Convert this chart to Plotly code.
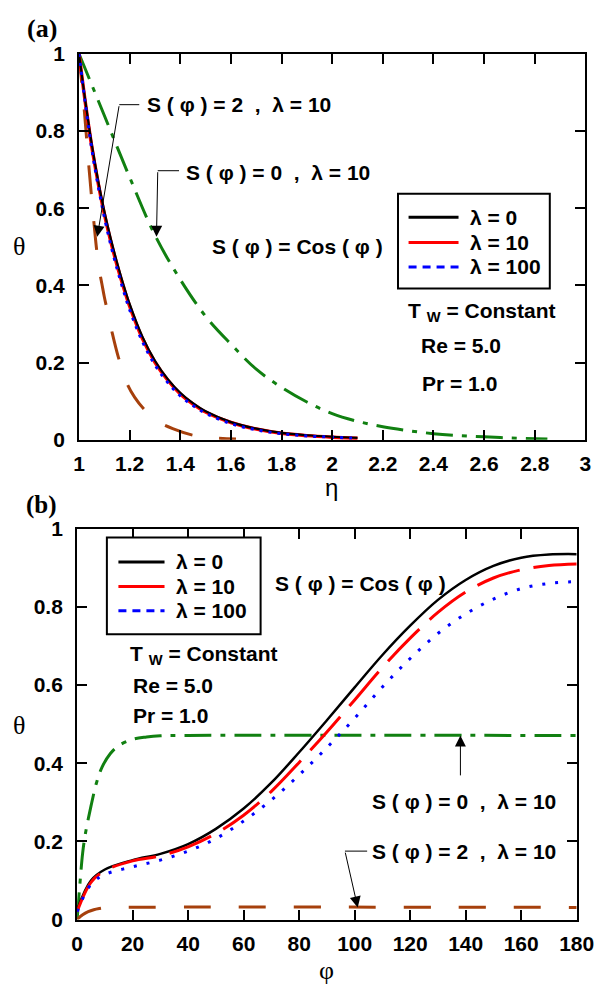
import plotly.graph_objects as go

# ---------------- data: panel (a) ----------------
eta_base = [1.0, 1.025, 1.05, 1.075, 1.1, 1.125, 1.15, 1.175, 1.2, 1.25, 1.3, 1.35, 1.4, 1.45, 1.5, 1.6, 1.7, 1.8, 1.9, 2.0, 2.1]
theta_a_l0 = [1.0, 0.877, 0.767, 0.673, 0.592, 0.522, 0.46, 0.403, 0.352, 0.268, 0.205, 0.158, 0.122, 0.095, 0.074, 0.046, 0.029, 0.018, 0.012, 0.008, 0.005]
theta_a_l10 = [1.0, 0.873, 0.761, 0.667, 0.585, 0.515, 0.453, 0.397, 0.346, 0.263, 0.201, 0.155, 0.119, 0.093, 0.072, 0.045, 0.028, 0.017, 0.011, 0.007, 0.004]
theta_a_l100 = [1.0, 0.87, 0.755, 0.66, 0.577, 0.506, 0.444, 0.388, 0.337, 0.255, 0.194, 0.149, 0.114, 0.089, 0.069, 0.042, 0.026, 0.016, 0.010, 0.007, 0.004]

eta_cos = [1.0, 1.1, 1.2, 1.3, 1.4, 1.5, 1.6, 1.7, 1.8, 1.9, 2.0, 2.1, 2.2, 2.3, 2.4, 2.5, 2.6, 2.7, 2.8, 2.85]
theta_a_cos = [1.0, 0.84, 0.68, 0.53, 0.415, 0.32, 0.248, 0.183, 0.136, 0.098, 0.068, 0.048, 0.034, 0.024, 0.016, 0.011, 0.008, 0.005, 0.003, 0.002]

eta_s2 = [1.0, 1.01, 1.02, 1.03, 1.04, 1.05, 1.06, 1.07, 1.08, 1.09, 1.1, 1.11, 1.13, 1.155, 1.19, 1.22, 1.26, 1.31, 1.37, 1.45, 1.53, 1.62]
theta_a_s2 = [1.0, 0.93, 0.86, 0.78, 0.70, 0.625, 0.555, 0.49, 0.44, 0.405, 0.37, 0.34, 0.28, 0.215, 0.145, 0.11, 0.077, 0.048, 0.029, 0.012, 0.005, 0.002]

# ---------------- data: panel (b) ----------------
phi = [0, 5, 10, 20, 30, 40, 50, 60, 70, 80, 90, 100, 110, 120, 130, 140, 150, 160, 170, 180]
theta_b_l0 = [0.025, 0.10, 0.128, 0.152, 0.168, 0.193, 0.232, 0.284, 0.35, 0.428, 0.51, 0.594, 0.677, 0.752, 0.818, 0.869, 0.905, 0.926, 0.934, 0.935]
theta_b_l10 = [0.02, 0.095, 0.125, 0.15, 0.163, 0.186, 0.22, 0.267, 0.328, 0.402, 0.48, 0.562, 0.645, 0.72, 0.786, 0.838, 0.874, 0.895, 0.906, 0.91]
theta_b_l100 = [0.02, 0.09, 0.115, 0.135, 0.152, 0.175, 0.207, 0.252, 0.306, 0.37, 0.44, 0.515, 0.595, 0.668, 0.732, 0.782, 0.82, 0.847, 0.86, 0.865]

phi_s0 = [0, 1, 2, 3, 5, 7, 9, 12, 15, 20, 25, 30, 40, 180]
theta_b_s0 = [0.0, 0.09, 0.17, 0.22, 0.29, 0.35, 0.39, 0.425, 0.445, 0.461, 0.467, 0.47, 0.471, 0.471]

phi_s2 = [0, 2, 4, 6, 8, 10, 15, 180]
theta_b_s2 = [0.0, 0.012, 0.02, 0.025, 0.028, 0.03, 0.031, 0.031]

legend_names = ["λ = 0", "λ = 10", "λ = 100"]

BLACK = "#000000"
RED = "#ff0000"
BLUE = "#0000ff"
GREEN = "#118011"
BROWN = "#a6400c"
FONT = "Liberation Sans"
TS = 21  # text size

W, H = 612, 994

fig = go.Figure()

# ---- panel (a) traces ----
fig.add_trace(go.Scatter(x=eta_cos, y=theta_a_cos, mode="lines", line=dict(color=GREEN, width=3, dash="27px,9px,5px,9px", shape="spline"),
                         name="S(φ) = Cos(φ)", showlegend=False, xaxis="x", yaxis="y"))
fig.add_trace(go.Scatter(x=eta_s2, y=theta_a_s2, mode="lines", line=dict(color=BROWN, width=3, dash="29px,27px", shape="spline"),
                         name="S(φ) = 2", showlegend=False, xaxis="x", yaxis="y"))
fig.add_trace(go.Scatter(x=eta_base, y=theta_a_l10, mode="lines", line=dict(color=RED, width=3.5, shape="spline"),
                         name=legend_names[1], showlegend=False, xaxis="x", yaxis="y"))
fig.add_trace(go.Scatter(x=eta_base, y=theta_a_l0, mode="lines", line=dict(color=BLACK, width=2.2, shape="spline"),
                         name=legend_names[0], showlegend=False, xaxis="x", yaxis="y"))
fig.add_trace(go.Scatter(x=eta_base, y=theta_a_l100, mode="lines", line=dict(color=BLUE, width=3, dash="3px,6px", shape="spline"),
                         name=legend_names[2], showlegend=False, xaxis="x", yaxis="y"))

# ---- panel (b) traces ----
fig.add_trace(go.Scatter(x=phi_s0, y=theta_b_s0, mode="lines", line=dict(color=GREEN, width=3, dash="27px,9px,5px,9px", shape="spline"),
                         name="S(φ) = 0", showlegend=False, xaxis="x2", yaxis="y2"))
fig.add_trace(go.Scatter(x=phi_s2, y=theta_b_s2, mode="lines", line=dict(color=BROWN, width=3, dash="27px,28px", shape="spline"),
                         name="S(φ) = 2", showlegend=False, xaxis="x2", yaxis="y2"))
fig.add_trace(go.Scatter(x=phi, y=theta_b_l0, mode="lines", line=dict(color=BLACK, width=2.5, shape="spline"),
                         name=legend_names[0], showlegend=False, xaxis="x2", yaxis="y2"))
fig.add_trace(go.Scatter(x=phi, y=theta_b_l10, mode="lines", line=dict(color=RED, width=3, dash="45px,14px", shape="spline"),
                         name=legend_names[1], showlegend=False, xaxis="x2", yaxis="y2"))
fig.add_trace(go.Scatter(x=phi, y=theta_b_l100, mode="lines", line=dict(color=BLUE, width=3, dash="3px,10px", shape="spline"),
                         name=legend_names[2], showlegend=False, xaxis="x2", yaxis="y2"))

axis_common = dict(showline=True, linecolor="black", linewidth=2, mirror="ticks", ticks="inside",
                   ticklen=10, tickwidth=1.5, tickcolor="black", showgrid=False, zeroline=False,
                   tickfont=dict(family=FONT, size=21, color="black", weight="bold"))

fig.update_layout(
    width=W, height=H, margin=dict(l=0, r=0, t=0, b=0),
    paper_bgcolor="white", plot_bgcolor="white", showlegend=False,
    xaxis=dict(domain=[76 / W, 603 / W], range=[1, 3], dtick=0.2, tick0=1, anchor="y",
               ticklabelstandoff=4, **axis_common),
    yaxis=dict(domain=[1 - 438 / H, 1 - 42.7 / H], range=[0, 1], dtick=0.2, anchor="x",
               ticklabelstandoff=8, **axis_common),
    xaxis2=dict(domain=[74 / W, 594 / W], range=[0, 180], dtick=20, anchor="y2",
                ticklabelstandoff=4, **axis_common),
    yaxis2=dict(domain=[1 - 929 / H, 1 - 529 / H], range=[0, 1], dtick=0.2, anchor="x2",
                ticklabelstandoff=8, **axis_common),
)

NB = "\u00a0"
lab2 = f"S ( φ ) = 2{NB}{NB},{NB}{NB}λ = 10"
lab0 = f"S ( φ ) = 0{NB}{NB},{NB}{NB}λ = 10"
labc = "S ( φ ) = Cos ( φ )"
labT = "T <sub>W</sub> = Constant"

ann = []
shapes = []

def txt(x, y, t, xref, yref, size=TS):
    ann.append(dict(x=x, y=y, xref=xref, yref=yref, text="<b>" + t + "</b>", showarrow=False,
                    xanchor="left", yanchor="middle", font=dict(family=FONT, size=size, color="black")))

def arrow(x, y, ax, ay, xref, yref):
    ann.append(dict(x=x, y=y, ax=ax, ay=ay, xref=xref, yref=yref, axref=xref, ayref=yref, text="",
                    showarrow=True, arrowhead=2, arrowsize=2.2, arrowwidth=1, arrowcolor="black"))

# panel (a) texts
txt(1.262, 0.868, lab2, "x", "y")
txt(1.414, 0.693, lab0, "x", "y")
txt(1.516, 0.50, labc, "x", "y")
txt(2.29, 0.331, labT, "x", "y")
txt(2.343, 0.244, "Re = 5.0", "x", "y")
txt(2.347, 0.147, "Pr = 1.0", "x", "y")
arrow(1.072, 0.526, 1.159, 0.868, "x", "y")
arrow(1.306, 0.526, 1.311, 0.697, "x", "y")

# panel (b) texts
txt(70.6, 0.86, labc, "x2", "y2")
txt(18.3, 0.678, labT, "x2", "y2")
txt(19.4, 0.598, "Re = 5.0", "x2", "y2")
txt(19.4, 0.523, "Pr = 1.0", "x2", "y2")
txt(105.6, 0.3025, lab0, "x2", "y2")
txt(105.6, 0.175, lab2, "x2", "y2")
arrow(138.1, 0.471, 138.1, 0.365, "x2", "y2")
arrow(101.1, 0.031, 96.5, 0.175, "x2", "y2")

# leader segments (horizontal parts of the bent arrows)
shapes.append(dict(type="line", x0=1.159, x1=1.238, y0=0.868, y1=0.868, xref="x", yref="y", line=dict(color="black", width=1)))
shapes.append(dict(type="line", x0=1.311, x1=1.395, y0=0.697, y1=0.697, xref="x", yref="y", line=dict(color="black", width=1)))
shapes.append(dict(type="line", x0=96.5, x1=104.5, y0=0.175, y1=0.175, xref="x2", yref="y2", line=dict(color="black", width=1)))

# ---- legends (boxed key, drawn in page pixels) ----
leg_styles = [dict(color=BLACK, width=3), dict(color=RED, width=3), dict(color=BLUE, width=3, dash="8px,6px")]

def legend_box(left, top, right, bottom, rows_y, line_x0, line_x1, text_x):
    shapes.append(dict(type="rect", xref="paper", yref="paper", x0=left / W, x1=right / W,
                       y0=1 - bottom / H, y1=1 - top / H, line=dict(color="black", width=2),
                       fillcolor="white", layer="above"))
    for name, st, ry in zip(legend_names, leg_styles, rows_y):
        shapes.append(dict(type="line", xref="paper", yref="paper", x0=line_x0 / W, x1=line_x1 / W,
                           y0=1 - ry / H, y1=1 - ry / H, line=st, layer="above"))
        ann.append(dict(x=text_x / W, y=1 - ry / H, xref="paper", yref="paper", text="<b>" + name + "</b>",
                        showarrow=False, xanchor="left", yanchor="middle",
                        font=dict(family=FONT, size=TS, color="black")))

legend_box(408, 186, 566, 283, [210, 236, 261], 419, 471, 481)
legend_box(105, 538, 265, 637, [563, 588, 613], 117, 165, 175)

# panel labels and axis titles
def ptxt(x, y, t, fam, size, bold=False):
    ann.append(dict(x=x / W, y=1 - y / H, xref="paper", yref="paper", text=("<b>" + t + "</b>") if bold else t,
                    showarrow=False, xanchor="center", yanchor="middle",
                    font=dict(family=fam, size=size, color="black")))

ptxt(37, 17, "(a)", "Liberation Serif", 26, True)
ptxt(37, 505, "(b)", "Liberation Serif", 25, True)
ptxt(14, 240, "θ", "Liberation Serif", 26)
ptxt(14, 730, "θ", "Liberation Serif", 26)
ptxt(339, 487, "η", "Liberation Sans", 24)
ptxt(334, 981, "φ", "Liberation Serif", 26)

fig.update_layout(annotations=ann, shapes=shapes)

fig.write_html("out.html")
